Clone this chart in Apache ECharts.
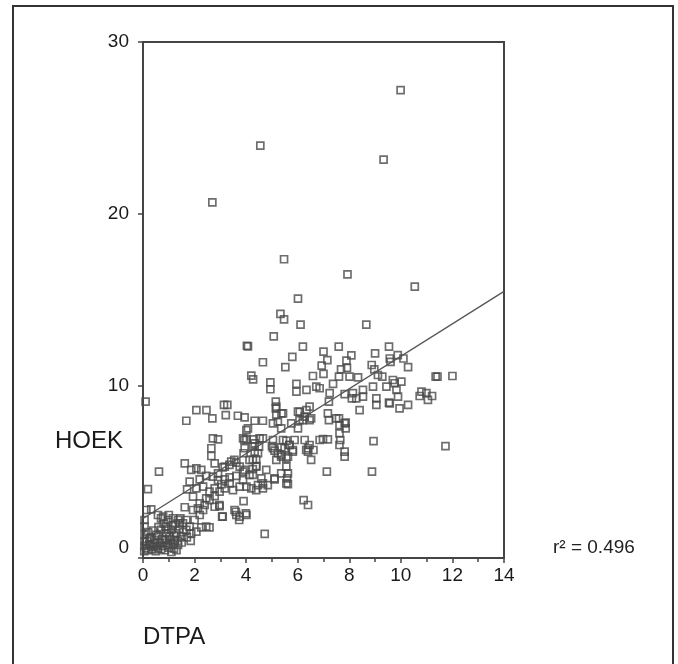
<!DOCTYPE html>
<html>
<head>
<meta charset="utf-8">
<script src="https://cdn.jsdelivr.net/npm/echarts@6/dist/echarts.min.js"></script>
<style>
	html, body { margin: 0; padding: 0; background: #fff; }
	#chart { width: 678px; height: 664px; }
</style>
</head>
<body>
<div id="chart"></div>
<script>
// DTPA (x) vs HOEK (y)
var points = [
	[9.99,27.2],[4.55,23.97],[9.33,23.16],[2.69,20.68],
	[5.47,17.37],[7.93,16.49],[10.54,15.78],[6.01,15.08],[5.33,14.19],[5.47,13.87],[6.11,13.57],[8.66,13.57],
	[5.07,12.89],[4.03,12.34],[4.07,12.3],[6.2,12.29],[7.59,12.29],[9.54,12.29],[7.0,12.0],[8.08,11.78],
	[5.79,11.69],[9.0,11.9],[4.65,11.38],[7.15,11.51],[7.89,11.47],[9.57,11.6],[9.6,11.4],[9.88,11.8],
	[10.1,11.6],[5.52,11.1],[6.93,11.18],[7.68,10.97],[7.91,11.05],[8.87,11.22],[8.97,10.97],[10.28,11.1],
	[7.0,10.7],[6.59,10.58],[7.6,10.54],[8.01,10.54],[8.34,10.5],[9.11,10.64],[9.28,10.54],[9.69,10.35],
	[10.02,10.25],[9.76,10.16],[11.35,10.54],[11.42,10.54],[12.0,10.58],[4.2,10.6],[4.27,10.39],[4.94,10.21],
	[4.94,9.81],[5.95,10.12],[5.95,9.67],[6.34,9.77],[6.72,9.96],[6.85,9.87],[7.37,10.12],[7.24,9.58],
	[7.82,9.53],[8.14,9.58],[8.53,9.77],[8.27,9.28],[8.53,9.38],[8.92,9.96],[9.44,9.96],[9.05,9.28],
	[9.05,8.9],[9.54,9.03],[9.95,8.7],[10.28,8.9],[9.83,9.77],[9.89,9.38],[10.73,9.42],[10.99,9.58],
	[11.21,9.42],[11.05,9.19],[10.8,9.67],[0.1,9.09],[3.14,8.9],[3.27,8.9],[2.07,8.6],[2.46,8.6],
	[1.68,7.98],[2.69,8.12],[3.21,8.31],[3.68,8.27],[3.94,8.18],[4.33,7.98],[4.65,7.98],[5.04,7.83],
	[5.15,9.09],[5.15,8.7],[5.37,8.41],[5.75,7.83],[6.08,8.5],[6.34,8.6],[6.52,8.12],[6.2,8.02],
	[7.21,9.09],[7.17,8.41],[7.21,8.02],[7.6,8.12],[7.82,7.83],[8.1,9.28],[8.4,8.6],[9.57,8.99],
	[7.49,8.12],[7.62,7.73],[7.86,7.87],[7.86,7.54],[5.17,8.8],[5.43,8.41],[5.17,8.31],[6.01,8.51],
	[6.46,8.8],[5.23,7.93],[5.36,7.54],[6.07,8.02],[6.27,8.22],[6.46,8.02],[6.01,7.54],[4.07,7.54],
	[4.52,6.96],[5.04,6.86],[5.43,6.86],[5.68,6.57],[5.88,6.86],[6.4,6.38],[6.85,6.86],[6.98,6.92],
	[3.88,6.96],[4.33,6.67],[3.94,6.38],[4.46,6.09],[4.26,5.7],[4.39,5.31],[3.94,5.12],[4.26,4.83],
	[4.65,4.34],[5.1,4.63],[5.62,4.92],[5.56,4.34],[5.17,5.7],[5.36,5.89],[5.62,5.89],[5.81,6.28],
	[5.04,6.38],[5.49,6.38],[6.33,6.28],[6.61,6.28],[7.65,6.86],[3.09,5.27],[3.35,5.41],[3.54,5.7],
	[3.93,6.86],
	[0.62,5.02],[0.19,4.01],[0.13,2.79],[0.32,2.83],[0.06,2.21],[0.06,1.82],[0.06,1.34],[0.06,0.95],
	[0.06,0.7],[0.26,0.76],[0.45,0.85],[0.26,1.14],[0.52,1.34],[0.71,1.63],[0.58,2.5],[0.78,2.4],
	[0.97,2.21],[1.16,2.31],[1.36,2.21],[1.55,2.02],[0.9,1.82],[1.1,1.63],[1.29,1.43],[1.49,1.24],
	[1.23,1.05],[1.03,1.24],[0.84,1.05],[0.65,0.85],[0.39,0.66],[0.78,0.7],[1.16,0.81],[1.36,0.76],
	[0.97,0.76],[0.13,0.56],[0.58,0.56],[1.68,1.63],[1.87,1.43],[2.07,1.53],[2.26,1.78],[2.45,1.82],
	[2.58,1.78],[1.62,2.95],[1.71,3.99],[1.62,5.5],[1.87,5.12],[2.07,5.21],[2.26,5.12],[1.94,3.57],
	[2.2,3.18],[2.45,3.47],[2.58,3.86],[2.33,4.15],[2.07,4.05],[1.81,4.44],[2.2,4.57],[2.45,4.77],
	[2.71,4.73],[2.91,4.53],[3.17,4.57],[3.36,4.69],[3.62,4.77],[3.88,4.53],[3.75,4.15],[4.01,4.15],
	[4.2,4.05],[4.46,4.24],[4.65,4.05],[4.84,4.24],[5.1,4.57],[5.59,4.63],[5.62,4.3],[5.36,4.92],
	[5.56,5.31],[3.04,4.3],[2.78,4.05],[2.58,3.37],[2.71,6.96],[2.91,6.9],[2.65,6.38],[2.65,5.93],
	[2.78,5.5],[3.17,5.31],[3.42,5.6],[3.62,5.54],[3.88,5.02],[4.13,4.83],[4.26,5.16],[4.39,5.35],
	[4.39,5.74],[4.33,6.18],[4.26,6.47],[4.01,6.9],[4.29,6.9],[3.9,6.09],[4.65,6.96],[4.5,6.47],
	[4.59,4.63],[4.39,3.95],[4.01,7.44],[5.0,6.51],[5.1,6.24],[5.36,6.43],[5.56,6.82],[5.68,6.57],
	[5.81,6.18],[5.56,5.79],[5.36,5.99],[5.23,6.09],[6.27,6.86],[6.46,6.57],[6.4,6.18],[6.52,5.7],
	[7.17,6.9],[7.62,6.57],[7.82,6.18],[7.82,5.89],[7.62,7.25],[7.13,5.02],[8.88,5.02],[8.94,6.8],
	[11.73,6.51],[6.23,3.37],[6.4,3.08],[4.72,1.4],[2.97,3.02],[3.07,2.4],[3.55,2.79],[3.75,2.4],
	[4.01,2.5],[3.62,2.5],[3.9,3.31],[3.49,3.95],[3.36,4.34],[4.78,5.12],[1.81,1.82],[1.42,2.02],
	[0.9,1.43],[1.68,2.21],[2.0,2.21],[2.2,2.5],[2.33,2.79],[2.13,2.89],[2.39,3.08],[1.94,2.79],
	[2.78,2.98],[2.78,3.6],[2.97,3.86],[3.17,4.05],[2.91,4.92],[3.75,5.31],[4.13,5.7],
	[0.05,0.4],[0.2,0.45],[0.35,0.5],[0.5,0.4],[0.7,0.5],[0.85,0.45],[1.0,0.6],[1.2,0.55],
	[1.3,0.45],[0.15,1.0],[0.3,1.2],[0.45,1.05],[0.6,1.3],[0.75,1.1],[0.9,0.9],[1.05,1.1],
	[1.2,1.3],[1.35,1.0],[1.5,0.9],[1.55,1.5],[1.4,1.7],[1.15,1.9],[0.95,1.7],[0.8,2.0],
	[0.6,1.8],[0.4,1.6],[0.2,1.5],[1.25,2.0],[1.45,2.3],[1.0,2.5],[0.7,2.3],[1.7,1.2],
	[1.85,1.0],[1.1,0.35],[0.55,0.7],[0.25,0.8],[2.96,3.08],[3.09,2.4],[3.6,2.69],[3.73,2.21],[3.99,2.6]
];
// fitted line end points
var fitLine = [[0, 2.3], [14, 15.5]];
var xMin = 0, xMax = 14, xStep = 2;
var yMin = 0, yMax = 30, yStep = 10;
var rSquared = 'r\u00b2 = 0.496';

var font = '"Liberation Sans", Arial, sans-serif';
var myChart = echarts.init(document.getElementById('chart'));
var option = {
	animation: false,
	backgroundColor: '#fff',
	grid: {
		left: 143, right: 174, top: 42, bottom: 106,
		show: true, borderColor: '#444', borderWidth: 2
	},
	xAxis: {
		type: 'value', min: xMin, max: xMax, interval: xStep,
		axisLine: { show: true, onZero: false, lineStyle: { color: '#444', width: 2 } },
		axisTick: { show: true, length: 5, lineStyle: { color: '#444', width: 1.5 } },
		minorTick: { show: true, splitNumber: 2, length: 4, lineStyle: { color: '#444', width: 1.5 } },
		splitLine: { show: false },
		axisLabel: { fontSize: 19, color: '#1a1a1a', margin: 8, fontFamily: font }
	},
	yAxis: {
		type: 'value', min: yMin, max: yMax, interval: yStep,
		axisLine: { show: true, onZero: false, lineStyle: { color: '#444', width: 2 } },
		axisTick: { show: true, length: 5, lineStyle: { color: '#444', width: 1.5 } },
		splitLine: { show: false },
		axisLabel: {
			fontSize: 19, color: '#1a1a1a', margin: 14, fontFamily: font,
			formatter: function (v) { return v === 0 ? '{lift|0}' : String(v); },
			rich: { lift: { fontSize: 19, color: '#1a1a1a', fontFamily: font, padding: [0, 0, 20, 0] } }
		}
	},
	series: [
		{
			type: 'scatter',
			symbol: 'rect',
			symbolSize: 7,
			data: points,
			itemStyle: { color: 'rgba(0,0,0,0)', borderColor: '#4a4a4a', borderWidth: 1.7 },
			emphasis: { disabled: true }
		},
		{
			type: 'line',
			data: fitLine,
			showSymbol: false,
			lineStyle: { color: '#555', width: 1.3 },
			emphasis: { disabled: true }
		}
	],
	graphic: [
		{ type: 'rect', shape: { x: 13, y: 6, width: 660, height: 670 }, style: { fill: 'none', stroke: '#333', lineWidth: 2 } },
		{ type: 'text', x: 55, y: 441, style: { text: 'HOEK', font: '24px ' + font, fill: '#1a1a1a', verticalAlign: 'middle' } },
		{ type: 'text', x: 143, y: 637, style: { text: 'DTPA', font: '24px ' + font, fill: '#1a1a1a', verticalAlign: 'middle' } },
		{ type: 'text', x: 553, y: 548, style: { text: rSquared, font: '19px ' + font, fill: '#222', verticalAlign: 'middle' } }
	]
};
myChart.setOption(option);
</script>
</body>
</html>
